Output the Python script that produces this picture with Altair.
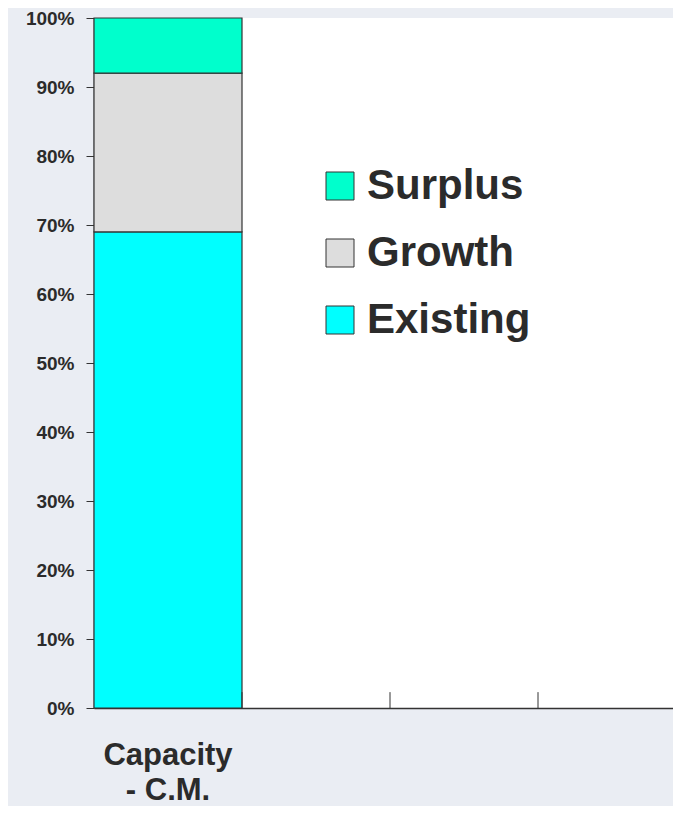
import altair as alt
import pandas as pd

categories = ["Capacity|- C.M.", " ", "  ", "   "]
series = ["Existing", "Growth", "Surplus"]
values = [0.69, 0.23, 0.08]
legend_order = ["Surplus", "Growth", "Existing"]
colors = ["#00FFCC", "#DDDDDD", "#00FFFF"]
y_ticks = [i / 10 for i in range(11)]

bars = pd.DataFrame({
    "category": [categories[0]] * len(series),
    "series": series,
    "value": values,
    "order": list(range(len(series))),
})
boundaries = pd.DataFrame({"category": categories[1:]})

FONT = "Liberation Sans"
TXT = "#2b2b2b"

x_scale = alt.Scale(domain=categories, range=[0, 592], paddingInner=0, paddingOuter=0)

bar = alt.Chart(bars).mark_bar(stroke="#333333", strokeWidth=1.2).encode(
    x=alt.X("category:N", scale=x_scale, sort=categories,
            axis=alt.Axis(title=None, ticks=False, labelAngle=0,
                          labelExpr="split(datum.label, '|')",
                          labelFont=FONT, labelFontSize=31, labelFontWeight="bold",
                          labelColor=TXT, labelPadding=32, labelLineHeight=35,
                          labelBaseline="top",
                          domainColor="#333333", domainWidth=1.5)),
    y=alt.Y("value:Q", stack="zero",
            scale=alt.Scale(domain=[0, 1], nice=False),
            axis=alt.Axis(title=None, format=".0%", values=y_ticks, grid=False,
                          labelFont=FONT, labelFontSize=19, labelFontWeight="bold",
                          labelColor=TXT, labelPadding=12, tickSize=8,
                          tickColor="#333333", domainColor="#333333", domainWidth=1.5)),
    color=alt.Color("series:N",
                    scale=alt.Scale(domain=legend_order, range=colors),
                    legend=alt.Legend(title=None, orient="none", legendX=225, legendY=147,
                                      symbolType="square", symbolSize=784,
                                      symbolStrokeColor="#333333", symbolStrokeWidth=1,
                                      symbolOpacity=1,
                                      labelFont=FONT, labelFontSize=42, labelFontWeight="bold",
                                      labelColor=TXT, labelOffset=6, rowPadding=25,
                                      labelLimit=400)),
    order=alt.Order("order:Q"),
)

ticks = alt.Chart(boundaries).mark_rule(color="#333333", strokeWidth=1).encode(
    x=alt.X("category:N", scale=x_scale, sort=categories, bandPosition=0),
    y=alt.datum(0),
    y2=alt.datum(0.023),
)

chart = alt.layer(bar, ticks).properties(
    width=579, height=690,
    autosize=alt.AutoSizeParams(type="none"),
    padding={"left": 86, "top": 10, "right": 0, "bottom": 98},
    background="#eaedf3",
).configure_view(fill="white", stroke=None)

chart.save("out.html", embed_options={"renderer": "svg", "actions": False})
